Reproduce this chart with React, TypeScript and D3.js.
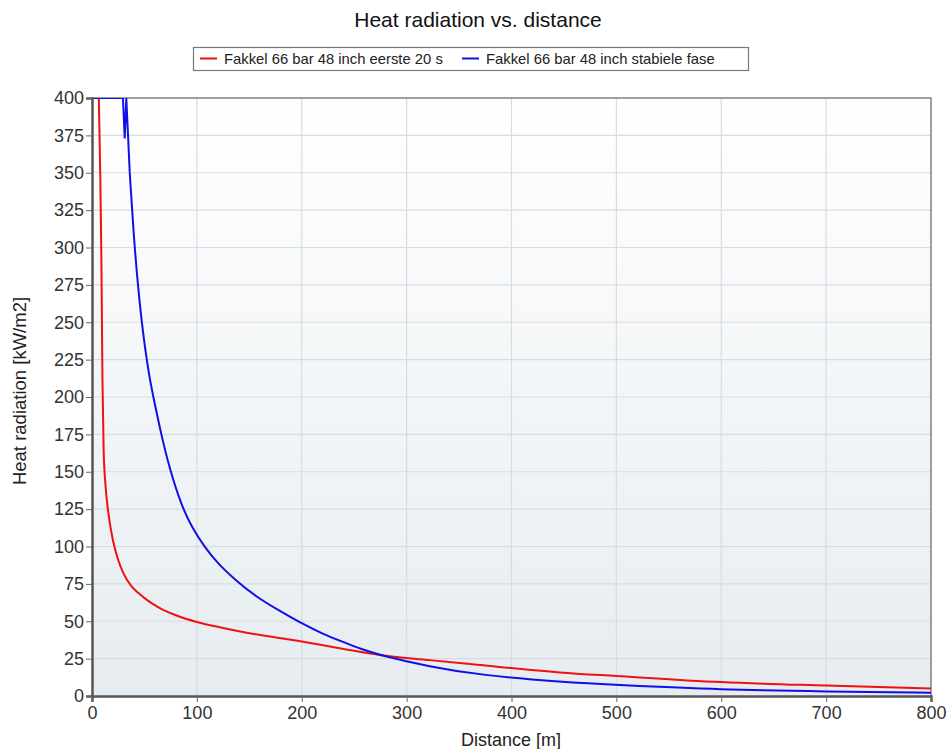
import React, { useEffect, useRef } from 'react';
import * as d3 from 'd3';

// distance [m]
const redDistance = [6.5, 7.9, 8.9, 10, 11.1, 13, 15.3, 20, 25, 30, 37, 44, 52, 63, 80, 100, 125, 150, 200, 240, 274, 322, 370, 446, 500, 600, 700, 800];
// heat radiation [kW/m2]
const redValues = [400, 348, 295, 210, 164, 140, 124, 104, 91, 82, 74, 69, 64.5, 59.5, 54, 49.5, 45.5, 42, 36.5, 31.5, 27.5, 24, 20.7, 15.8, 13.4, 9.3, 7, 5.1];

const blueDistance = [0, 29.5, 31.2, 32.7, 36, 40, 45, 50, 55, 60, 66, 74, 85, 95, 107, 120, 136, 155, 180, 200, 220, 240, 256, 274, 322, 370, 450, 500, 600, 700, 800];
const blueValues = [400, 400, 373, 400, 350, 305, 265, 235, 212, 195, 175, 152, 128, 113, 100, 88.5, 78, 67, 56.5, 48.5, 41.5, 36, 31.5, 27.4, 19.6, 14, 9.2, 7.4, 4.2, 3, 2.2];

const xTicks = [0, 100, 200, 300, 400, 500, 600, 700, 800];
const yTicks = [0, 25, 50, 75, 100, 125, 150, 175, 200, 225, 250, 275, 300, 325, 350, 375, 400];

const seriesNames = ['Fakkel 66 bar 48 inch eerste 20 s', 'Fakkel 66 bar 48 inch stabiele fase'];
const seriesColors = ['#f01010', '#1010e6'];

const App: React.FC = () => {
    const chartRef = useRef<SVGSVGElement | null>(null);

    useEffect(() => {
        if (!chartRef.current) return;
        const svg = d3.select(chartRef.current);
        svg.selectAll('*').remove();

        const width = 950;
        const height = 749;
        const m = { left: 92, right: 19, top: 98, bottom: 53 };
        const font = 'Liberation Sans, Arial, sans-serif';

        const x = d3.scaleLinear().domain([0, 800]).range([m.left, width - m.right]);
        const y = d3.scaleLinear().domain([0, 400]).range([height - m.bottom, m.top]);

        const defs = svg.append('defs');
        const grad = defs.append('linearGradient')
            .attr('id', 'bg').attr('x1', 0).attr('y1', 0).attr('x2', 0).attr('y2', 1);
        grad.append('stop').attr('offset', '0%').attr('stop-color', '#ffffff');
        grad.append('stop').attr('offset', '100%').attr('stop-color', '#e6ecf0');
        defs.append('clipPath').attr('id', 'plot')
            .append('rect')
            .attr('x', m.left).attr('y', m.top)
            .attr('width', x(800) - m.left).attr('height', y(0) - m.top);

        svg.append('rect')
            .attr('x', m.left).attr('y', m.top)
            .attr('width', x(800) - m.left).attr('height', y(0) - m.top)
            .attr('fill', 'url(#bg)');

        // grid
        svg.append('g').selectAll('line')
            .data(xTicks.slice(1, -1))
            .enter().append('line')
            .attr('x1', d => x(d)).attr('x2', d => x(d))
            .attr('y1', m.top).attr('y2', y(0))
            .attr('stroke', '#d9dcdf').attr('stroke-width', 1.2);
        svg.append('g').selectAll('line')
            .data(yTicks.slice(1, -1))
            .enter().append('line')
            .attr('y1', d => y(d)).attr('y2', d => y(d))
            .attr('x1', m.left).attr('x2', x(800))
            .attr('stroke', '#d9dcdf').attr('stroke-width', 1.2);

        // frame top/right
        svg.append('path')
            .attr('d', `M${m.left},${m.top}H${x(800)}V${y(0)}`)
            .attr('fill', 'none').attr('stroke', '#808080').attr('stroke-width', 1.5);

        // curves
        const line = d3.line<[number, number]>().x(d => x(d[0])).y(d => y(d[1])).curve(d3.curveMonotoneX);
        const smooth = d3.line<[number, number]>().x(d => x(d[0])).y(d => y(d[1])).curve(d3.curveBasis);
        const lineLinear = d3.line<[number, number]>().x(d => x(d[0])).y(d => y(d[1]));
        const plot = svg.append('g').attr('clip-path', 'url(#plot)');
        const redPts = redDistance.map((d, i) => [d, redValues[i]] as [number, number]);
        const bluePts = blueDistance.map((d, i) => [d, blueValues[i]] as [number, number]);
        plot.append('path')
            .attr('d', line(redPts))
            .attr('fill', 'none').attr('stroke', seriesColors[0]).attr('stroke-width', 2);
        // blue: flat part + dip drawn linear, rest smooth
        plot.append('path')
            .attr('d', lineLinear(bluePts.slice(0, 5)))
            .attr('fill', 'none').attr('stroke', seriesColors[1]).attr('stroke-width', 2);
        plot.append('path')
            .attr('d', smooth(bluePts.slice(4)))
            .attr('fill', 'none').attr('stroke', seriesColors[1]).attr('stroke-width', 2);

        // axes
        const xAxis = svg.append('g').attr('transform', `translate(0,${y(0)})`);
        xAxis.call(d3.axisBottom(x).tickValues(d3.range(0, 801, 25)).tickSize(4).tickFormat(() => ''));
        xAxis.call(d3.axisBottom(x).tickValues(xTicks).tickSize(6).tickPadding(4).tickFormat(d3.format('d')));
        xAxis.selectAll('.domain').attr('stroke', '#555').attr('stroke-width', 2.5);
        xAxis.selectAll('line').attr('stroke', '#666');
        xAxis.selectAll('text').attr('font-family', font).attr('font-size', 18).attr('fill', '#333');

        const yAxis = svg.append('g').attr('transform', `translate(${m.left},0)`);
        yAxis.call(d3.axisLeft(y).tickValues(d3.range(0, 401, 5)).tickSize(3).tickFormat(() => ''));
        yAxis.call(d3.axisLeft(y).tickValues(yTicks).tickSize(6).tickPadding(2).tickFormat(d3.format('d')));
        yAxis.selectAll('.domain').attr('stroke', '#555').attr('stroke-width', 2.5);
        yAxis.selectAll('line').attr('stroke', '#666');
        yAxis.selectAll('text').attr('font-family', font).attr('font-size', 18).attr('fill', '#333');

        // title
        svg.append('text')
            .attr('x', 478).attr('y', 27)
            .attr('text-anchor', 'middle')
            .attr('font-family', font).attr('font-size', 21).attr('fill', '#111')
            .text('Heat radiation vs. distance');

        // axis labels
        svg.append('text')
            .attr('x', 511).attr('y', 746)
            .attr('text-anchor', 'middle')
            .attr('font-family', font).attr('font-size', 18).attr('fill', '#222')
            .text('Distance [m]');
        svg.append('text')
            .attr('transform', `translate(26,391) rotate(-90)`)
            .attr('text-anchor', 'middle')
            .attr('font-family', font).attr('font-size', 18.5).attr('fill', '#222')
            .text('Heat radiation [kW/m2]');

        // legend
        const lg = svg.append('g');
        lg.append('rect')
            .attr('x', 193.5).attr('y', 47.5).attr('width', 555).attr('height', 23)
            .attr('fill', '#fff').attr('stroke', '#777').attr('stroke-width', 1.2);
        const itemX = [200, 462];
        seriesNames.forEach((name, i) => {
            lg.append('line')
                .attr('x1', itemX[i]).attr('x2', itemX[i] + 17)
                .attr('y1', 58.5).attr('y2', 58.5)
                .attr('stroke', seriesColors[i]).attr('stroke-width', 2);
            lg.append('text')
                .attr('x', itemX[i] + 24).attr('y', 64)
                .attr('font-family', font).attr('font-size', 14.8).attr('fill', '#222')
                .text(name);
        });
    }, []);

    return (
        <svg ref={chartRef} width={950} height={749}
            style={{ position: 'absolute', left: 0, top: 0, display: 'block' }} />
    );
};

export default App;
